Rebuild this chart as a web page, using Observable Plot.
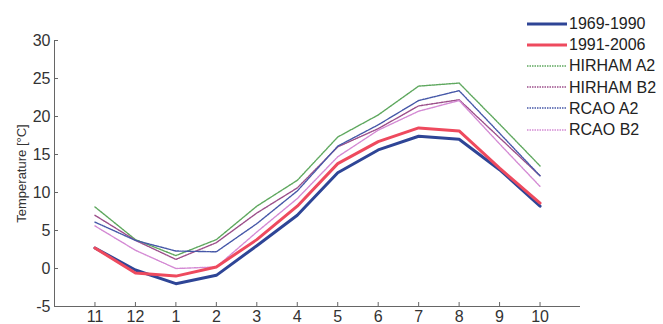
<!DOCTYPE html>
<html>
<head>
<meta charset="utf-8">
<script src="https://cdn.jsdelivr.net/npm/d3@7"></script>
<script src="https://cdn.jsdelivr.net/npm/@observablehq/plot@0.6"></script>
<style>
  body { margin: 0; background: #fff; font-family: "Liberation Sans", Arial, sans-serif; }
  #wrap { position: relative; width: 663px; height: 324px; }
  #legend { position: absolute; left: 527px; top: 13px; font-size: 16px; color: #222; line-height: 21.2px; }
  #legend .row { display: flex; align-items: center; height: 21.2px; }
  #legend svg { margin-right: 2px; }
</style>
</head>
<body>
<div id="wrap"><div id="legend"></div></div>
<script>
const months = [11, 12, 1, 2, 3, 4, 5, 6, 7, 8, 9, 10];
const yTicks = [-5, 0, 5, 10, 15, 20, 25, 30];
const seriesNames = ["1969-1990", "1991-2006", "HIRHAM A2", "HIRHAM B2", "RCAO A2", "RCAO B2"];
const obs1969 = [2.7, -0.2, -2.0, -0.9, 3.0, 7.0, 12.6, 15.6, 17.4, 17.0, 13.0, 8.2];
const obs1991 = [2.7, -0.6, -1.0, 0.2, 3.8, 8.2, 13.8, 16.7, 18.5, 18.1, 13.2, 8.6];
const hirhamA2 = [8.1, 3.8, 1.7, 3.8, 8.2, 11.6, 17.3, 20.2, 24.0, 24.4, 19.0, 13.5];
const hirhamB2 = [7.0, 3.7, 1.2, 3.4, 7.3, 10.6, 16.0, 18.4, 21.4, 22.2, 17.2, 12.2];
const rcaoA2 = [6.1, 3.7, 2.3, 2.2, 5.9, 10.2, 16.1, 18.9, 22.1, 23.4, 17.8, 12.2];
const rcaoB2 = [5.6, 2.4, 0.0, 0.2, 4.8, 9.2, 14.7, 18.2, 20.7, 22.1, 16.4, 10.8];

const styles = [
  {color: "#2e4596", width: 3, dash: null},
  {color: "#ee4a5e", width: 3, dash: null},
  {color: "#5fa85f", width: 1.4, dash: "1.5,1"},
  {color: "#9c4f8a", width: 1.4, dash: "1.5,1"},
  {color: "#4658a8", width: 1.4, dash: "1.5,1"},
  {color: "#d48ad4", width: 1.4, dash: "1.5,1"}
];
const allSeries = [obs1969, obs1991, hirhamA2, hirhamB2, rcaoA2, rcaoB2];
// x position index: months placed at 11..22
const xIdx = months.map((m, i) => 11 + i);

const rows = [];
allSeries.forEach((vals, s) => vals.forEach((v, i) => rows.push({s, x: xIdx[i], y: v})));

const order = [2, 3, 4, 5, 0, 1];
const lineMarks = order.map(s => Plot.line(rows.filter(d => d.s === s), {
  x: "x", y: "y",
  stroke: styles[s].color,
  strokeWidth: styles[s].width,
  strokeDasharray: styles[s].dash,
  strokeLinejoin: "round"
}));

const chart = Plot.plot({
  width: 663,
  height: 324,
  marginLeft: 54,
  marginRight: 83,
  marginTop: 40,
  marginBottom: 18,
  style: {fontFamily: "'Liberation Sans', Arial, sans-serif", fontSize: "16px", color: "#333", background: "transparent"},
  x: {domain: [10, 23]},
  y: {domain: [-5, 30]},
  marks: [
    Plot.ruleX([10], {y1: -5, y2: 30, stroke: "#666", strokeWidth: 1}),
    Plot.ruleY([-5], {x1: 10, x2: 23, stroke: "#666", strokeWidth: 1}),
    Plot.axisX(xIdx, {tickSize: -4, tickPadding: 8, tickFormat: (d) => String(months[d - 11]), label: null, stroke: "#666", fontSize: 16}),
    Plot.axisY(yTicks, {tickSize: -4, tickPadding: 8, tickFormat: (d) => String(d), label: "Temperature [°C]", labelAnchor: "center", labelArrow: false, labelOffset: 38, stroke: "#666", fontSize: 16}),
    ...lineMarks
  ]
});
document.getElementById("wrap").prepend(chart);
chart.style.position = "absolute";
chart.style.left = "0";
chart.style.top = "0";
chart.querySelectorAll("text").forEach(t => {
  if (t.textContent === "Temperature [°C]") t.setAttribute("font-size", "13");
});

const legend = document.getElementById("legend");
seriesNames.forEach((name, s) => {
  const row = document.createElement("div");
  row.className = "row";
  const st = styles[s];
  row.innerHTML = `<svg width="40" height="6"><line x1="0" y1="3" x2="40" y2="3" stroke="${st.color}" stroke-width="${st.width}" ${st.dash ? `stroke-dasharray="${st.dash}"` : ""}/></svg><span>${name}</span>`;
  legend.appendChild(row);
});
</script>
</body>
</html>
